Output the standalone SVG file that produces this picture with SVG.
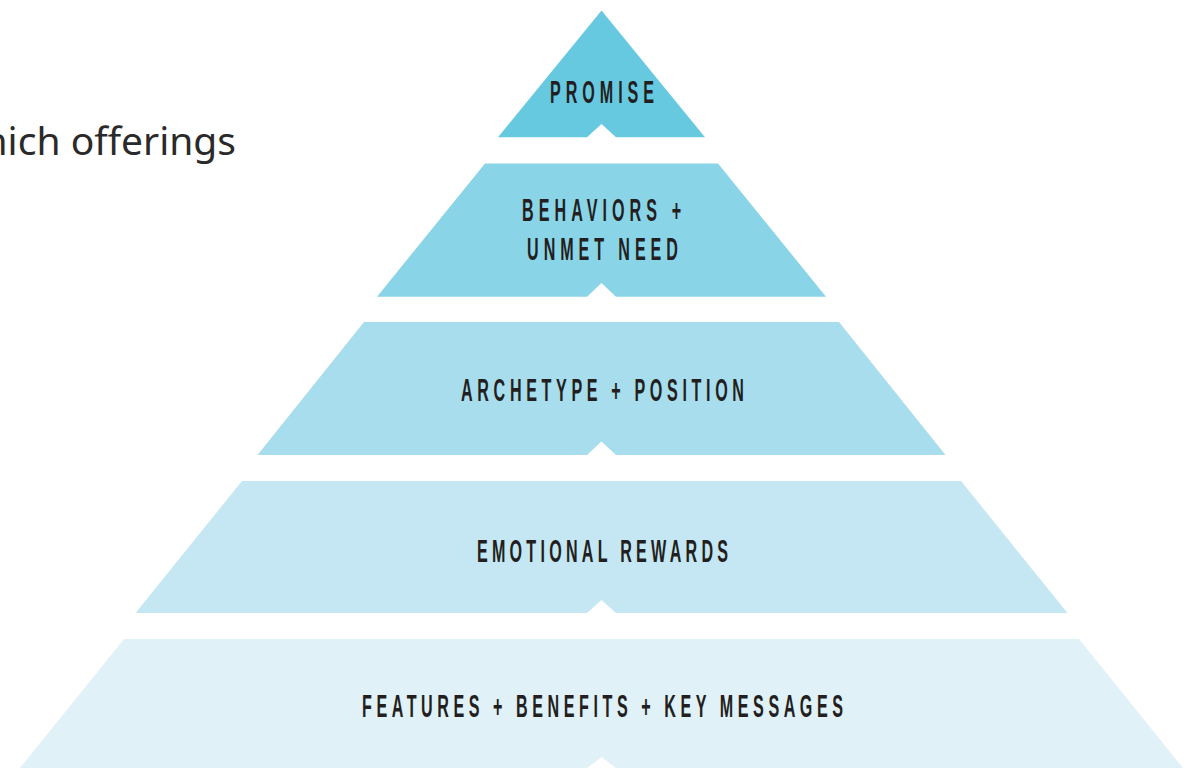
<svg xmlns="http://www.w3.org/2000/svg" width="1190" height="768" viewBox="0 0 1190 768">
  <style>
    .label { font-family: "Liberation Sans Narrow", "Liberation Sans", "DejaVu Sans Condensed", sans-serif; font-weight: bold; font-size: 31px; fill: #231f20; text-anchor: middle; }
    .body { font-family: "Noto Sans", "Open Sans", sans-serif; font-size: 39px; fill: #2a2a2a; text-anchor: end; }
  </style>
  <rect width="1190" height="768" fill="#ffffff"/>

  <text class="body" x="236" y="155">hich offerings</text>

  <!-- pyramid tiers, each with a small notch in its base -->
  <g id="tier-promise">
    <path d="M601.5,10.5 L705,137.3 L616,137.3 L601.5,124 L587,137.3 L498,137.3 Z" fill="#66c9e0"/>
    <text class="label" transform="translate(602,103) scale(0.52,1)" textLength="200" lengthAdjust="spacing">PROMISE</text>
  </g>

  <g id="tier-behaviors">
    <path d="M485,163.5 L718,163.5 L826,296.7 L616,296.7 L601.5,283 L587,296.7 L377,296.7 Z" fill="#8ad4e8"/>
    <text class="label" transform="translate(601.5,221) scale(0.52,1)" textLength="306" lengthAdjust="spacing">BEHAVIORS +</text>
    <text class="label" transform="translate(602.5,260) scale(0.52,1)" textLength="290" lengthAdjust="spacing">UNMET NEED</text>
  </g>

  <g id="tier-archetype">
    <path d="M364,322 L839,322 L945.5,455 L616,455 L601.5,441.5 L587,455 L257.5,455 Z" fill="#a7ddec"/>
    <text class="label" transform="translate(602.5,401) scale(0.52,1)" textLength="544" lengthAdjust="spacing">ARCHETYPE + POSITION</text>
  </g>

  <g id="tier-emotional">
    <path d="M242,481 L961,481 L1067.5,613 L616,613 L601.5,600 L587,613 L135.5,613 Z" fill="#c4e7f3"/>
    <text class="label" transform="translate(602.5,562) scale(0.52,1)" textLength="483" lengthAdjust="spacing">EMOTIONAL REWARDS</text>
  </g>

  <g id="tier-features">
    <path d="M124,639 L1079,639 L1183,768 L616,768 L601.5,757 L587,768 L20,768 Z" fill="#e0f1f8"/>
    <text class="label" transform="translate(602.5,717) scale(0.52,1)" textLength="925" lengthAdjust="spacing">FEATURES + BENEFITS + KEY MESSAGES</text>
  </g>

  <g id="connectors"/>
</svg>
